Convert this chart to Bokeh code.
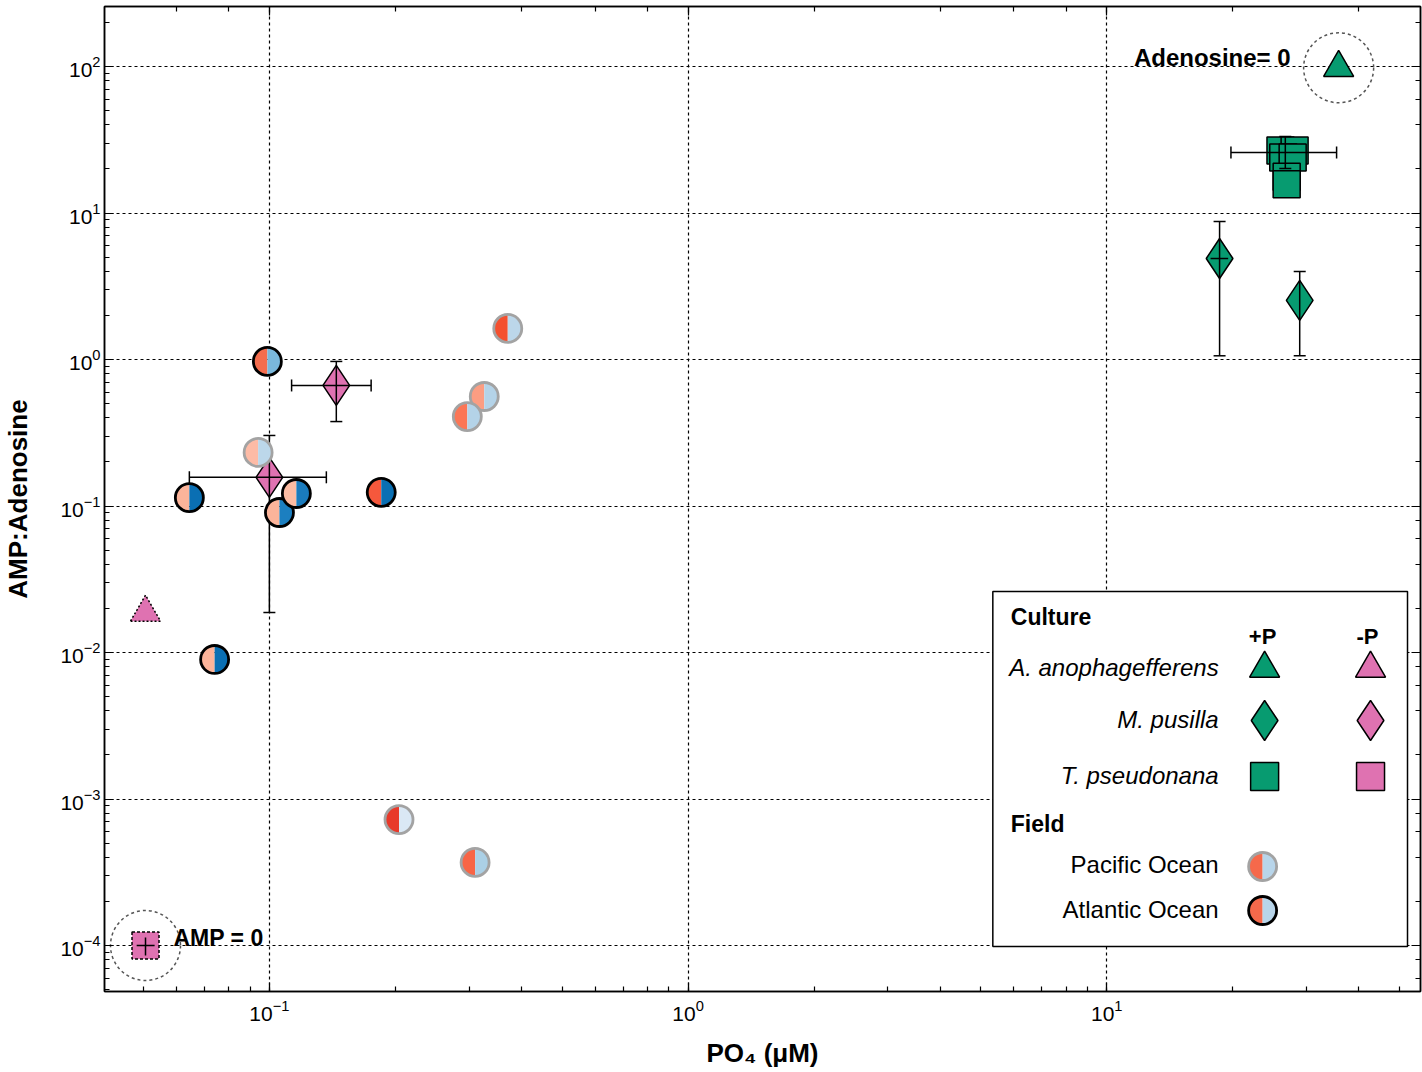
import math
from bokeh.plotting import figure
from bokeh.models import (LogAxis, Whisker, TeeHead, ColumnDataSource, Range1d,
                          LogTicker)
from bokeh.embed import file_html
from bokeh.resources import INLINE
from bokeh.core.properties import value

# ---------------- data ----------------
# Field samples: PO4 (uM) and AMP:Adenosine ratio
atl_x = [0.0989, 0.0644, 0.1057, 0.116, 0.185, 0.074]
atl_y = [0.97, 0.114, 0.0903, 0.1217, 0.124, 0.00896]
atl_left = ["#f46d4e", "#fcb49a", "#fcb49a", "#fcbca3", "#f6583c", "#fcb49a"]
atl_right = ["#7ab8dc", "#0a6fb3", "#1c7fc0", "#1a7bbd", "#0a6fb3", "#0a6fb3"]

pac_x = [0.094, 0.371, 0.326, 0.297, 0.204, 0.310]
pac_y = [0.232, 1.63, 0.559, 0.408, 0.000724, 0.000369]
pac_left = ["#fdbba6", "#f4502f", "#fc9d82", "#fb7656", "#e8392a", "#f86546"]
pac_right = ["#bcd7ea", "#bcd7ea", "#b4d3e8", "#b4d3e8", "#dae8f5", "#abd0e6"]

# Cultures, +P
aa_p_x = [35.8]          # A. anophagefferens +P (Adenosine = 0)
aa_p_y = [98.0]
mp_p_x = [18.6, 28.9]    # M. pusilla +P
mp_p_y = [4.89, 2.53]
mp_p_ylo = [1.06, 1.06]
mp_p_yhi = [8.75, 3.99]
mp_p_xlo = [17.7]
mp_p_xhi = [19.5]
tp_p_x = [26.0, 28.1, 26.4, 27.8, 26.9, 26.9]   # T. pseudonana +P replicates
tp_p_y = [26.7, 26.7, 23.9, 23.9, 17.7, 15.7]
tp_p_mx = [26.7]
tp_p_my = [25.9]
tp_p_xlo = [19.8]
tp_p_xhi = [35.4]
tp_p_ylo = [20.1]
tp_p_yhi = [33.3]

# Cultures, -P
aa_m_x = [0.0506]
aa_m_y = [0.01875]
mp_m_x = [0.1445, 0.100]
mp_m_y = [0.665, 0.157]
mp_m_xlo = [0.113, 0.0644]
mp_m_xhi = [0.175, 0.1368]
mp_m_ylo = [0.377, 0.01875]
mp_m_yhi = [0.97, 0.303]
tp_m_x = [0.0506]        # T. pseudonana -P (AMP = 0)
tp_m_y = [1.0e-4]
tp_m_xlo = [0.0482]
tp_m_xhi = [0.0532]
tp_m_ylo = [8.55e-5]
tp_m_yhi = [1.135e-4]

GREEN = "#079b70"
PINK = "#df72b1"
FONT = "Liberation Sans"


# pixel -> data helpers for layout of annotations / legend
def X(px):
    return 10 ** (-1 + (px - 268) / 419.0)


def Y(py):
    return 10 ** (-(py - 359) / 146.5)


p = figure(x_axis_type="log", y_axis_type="log",
           x_range=Range1d(X(103), X(1420)), y_range=Range1d(Y(991), Y(6)),
           width=1422, height=1070,
           min_border_left=103, min_border_right=2, min_border_top=6,
           min_border_bottom=79,
           output_backend="svg", toolbar_location=None)

p.outline_line_color = "black"
p.outline_line_width = 1.5
p.background_fill_color = "white"
p.border_fill_color = "white"

for ax in (p.xaxis[0], p.yaxis[0]):
    ax.major_tick_in = 9
    ax.major_tick_out = 0
    ax.minor_tick_in = 5
    ax.minor_tick_out = 0
    ax.axis_line_color = "black"
    ax.axis_line_width = 1.5
    ax.major_tick_line_width = 1.2
    ax.minor_tick_line_width = 1.2
    ax.major_label_text_font = FONT
    ax.major_label_text_font_size = "21px"
    ax.major_label_text_color = "black"
    ax.axis_label_text_font = FONT
    ax.axis_label_text_font_size = "26px"
    ax.axis_label_text_font_style = "bold"
    ax.axis_label_text_color = "black"

p.xaxis.axis_label = "PO\u2084 (\u03bcM)"
p.yaxis.axis_label = "AMP:Adenosine"
p.xaxis.major_label_standoff = 8
p.yaxis.major_label_standoff = 4
p.xaxis.axis_label_standoff = 14
p.yaxis.axis_label_standoff = 24

for loc in ("above", "right"):
    ax = LogAxis(ticker=LogTicker())
    ax.major_tick_in = 9
    ax.major_tick_out = 0
    ax.minor_tick_in = 5
    ax.minor_tick_out = 0
    ax.major_label_text_font_size = "2px"
    ax.major_label_text_alpha = 0
    ax.major_label_standoff = 0
    ax.axis_line_width = 1.5
    ax.major_tick_line_width = 1.2
    ax.minor_tick_line_width = 1.2
    p.add_layout(ax, loc)

p.grid.grid_line_color = "black"
p.grid.grid_line_dash = "3 3"
p.grid.grid_line_width = 1.2
p.grid.minor_grid_line_color = None

# ---------------- culture markers ----------------
p.scatter(aa_p_x, aa_p_y, marker="triangle", size=30, fill_color=GREEN,
          line_color="black", line_width=1.5)
p.scatter(tp_p_x, tp_p_y, marker="square", size=27, fill_color=GREEN,
          line_color="black", line_width=1.5)
p.scatter(mp_p_x, mp_p_y, marker="diamond", size=40, fill_color=GREEN,
          line_color="black", line_width=1.5)
p.scatter(aa_m_x, aa_m_y, marker="triangle", size=30, fill_color=PINK,
          line_color="black", line_width=1.5, line_dash="2 2")
p.scatter(tp_m_x, tp_m_y, marker="square", size=27, fill_color=PINK,
          line_color="black", line_width=1.5, line_dash="3 2")
p.scatter(mp_m_x, mp_m_y, marker="diamond", size=40, fill_color=PINK,
          line_color="black", line_width=1.5)

# dashed rings marking zero-value placeholders
p.scatter(aa_p_x, aa_p_y, marker="circle", size=70, fill_color=None,
          line_color="#555555", line_width=1.5, line_dash="3 3")
p.scatter(tp_m_x, tp_m_y, marker="circle", size=70, fill_color=None,
          line_color="#555555", line_width=1.5, line_dash="3 3")
p.text(aa_p_x, aa_p_y, text=["Adenosine= 0"], x_offset=-48, y_offset=-10,
       text_align="right", text_baseline="middle", text_font=value(FONT),
       text_font_size="24px", text_font_style="bold", text_color="black")
p.text(tp_m_x, tp_m_y, text=["AMP = 0"], x_offset=28, y_offset=-8,
       text_align="left", text_baseline="middle", text_font=value(FONT),
       text_font_size="23px", text_font_style="bold", text_color="black")


# ---------------- error bars ----------------
def whisk(base, lo, hi, dim, head=12):
    src = ColumnDataSource(dict(b=base, lo=lo, hi=hi))
    kw = {}
    if head:
        kw["lower_head"] = TeeHead(size=head, line_width=1.5, line_color="black")
        kw["upper_head"] = TeeHead(size=head, line_width=1.5, line_color="black")
    else:
        kw["lower_head"] = TeeHead(size=1, line_width=0.1, line_alpha=0)
        kw["upper_head"] = TeeHead(size=1, line_width=0.1, line_alpha=0)
    w = Whisker(source=src, base="b", lower="lo", upper="hi", dimension=dim,
                line_color="black", line_width=1.5, level="annotation", **kw)
    p.add_layout(w)


whisk(mp_p_x, mp_p_ylo, mp_p_yhi, "height")
whisk(mp_p_y[:1], mp_p_xlo, mp_p_xhi, "width", head=0)
whisk(tp_p_mx, tp_p_ylo, tp_p_yhi, "height")
whisk(tp_p_my, tp_p_xlo, tp_p_xhi, "width")
whisk(mp_m_x, mp_m_ylo, mp_m_yhi, "height")
whisk(mp_m_y, mp_m_xlo, mp_m_xhi, "width")
whisk(tp_m_x, tp_m_ylo, tp_m_yhi, "height", head=0)
whisk(tp_m_y, tp_m_xlo, tp_m_xhi, "width", head=0)


# ---------------- field half-circles ----------------
def half_circles(xs, ys, lc, rc, edge):
    r1 = p.wedge(xs, ys, radius=14, radius_units="screen", start_angle=math.pi / 2,
                 end_angle=3 * math.pi / 2, fill_color=lc, line_color=None)
    r2 = p.wedge(xs, ys, radius=14, radius_units="screen", start_angle=-math.pi / 2,
                 end_angle=math.pi / 2, fill_color=rc, line_color=None)
    r3 = p.scatter(xs, ys, marker="circle", size=28, fill_color=None,
                   line_color=edge, line_width=2.8)
    for r in (r1, r2, r3):
        r.level = "overlay"


for i in range(len(pac_x)):
    half_circles([pac_x[i]], [pac_y[i]], pac_left[i], pac_right[i], "#a3a3a3")
for i in range(len(atl_x)):
    half_circles([atl_x[i]], [atl_y[i]], atl_left[i], atl_right[i], "black")

# ---------------- legend ----------------
p.quad(left=[X(992)], right=[X(1407)], top=[Y(591)], bottom=[Y(946)],
       fill_color="white", line_color="black", line_width=1.5)


def ltext(px, py, s, align="left", style="normal", size="24px"):
    p.text([X(px)], [Y(py)], text=[s], text_align=align, text_baseline="middle",
           text_font=value(FONT), text_font_size=size, text_font_style=style,
           text_color="black")


ltext(1010, 616, "Culture", style="bold", size="23px")
ltext(1262, 636, "+P", align="center", style="bold", size="22px")
ltext(1367, 636, "-P", align="center", style="bold", size="22px")
ltext(1218, 667, "A. anophagefferens", align="right", style="italic")
ltext(1218, 719, "M. pusilla", align="right", style="italic")
ltext(1218, 775, "T. pseudonana", align="right", style="italic")
ltext(1010, 823, "Field", style="bold", size="23px")
ltext(1218, 864, "Pacific Ocean", align="right")
ltext(1218, 909, "Atlantic Ocean", align="right")

for px, col in ((1264, GREEN), (1370, PINK)):
    p.scatter([X(px)], [Y(668)], marker="triangle", size=30, fill_color=col,
              line_color="black", line_width=1.5)
    p.scatter([X(px)], [Y(720)], marker="diamond", size=40, fill_color=col,
              line_color="black", line_width=1.5)
    p.scatter([X(px)], [Y(776)], marker="square", size=28, fill_color=col,
              line_color="black", line_width=1.5)

half_circles([X(1262)], [Y(866)], ["#f6694b"], ["#b8d5ea"], "#a3a3a3")
half_circles([X(1262)], [Y(910)], ["#f6694b"], ["#b8d5ea"], "black")

open("out.html", "w").write(file_html(p, INLINE))
